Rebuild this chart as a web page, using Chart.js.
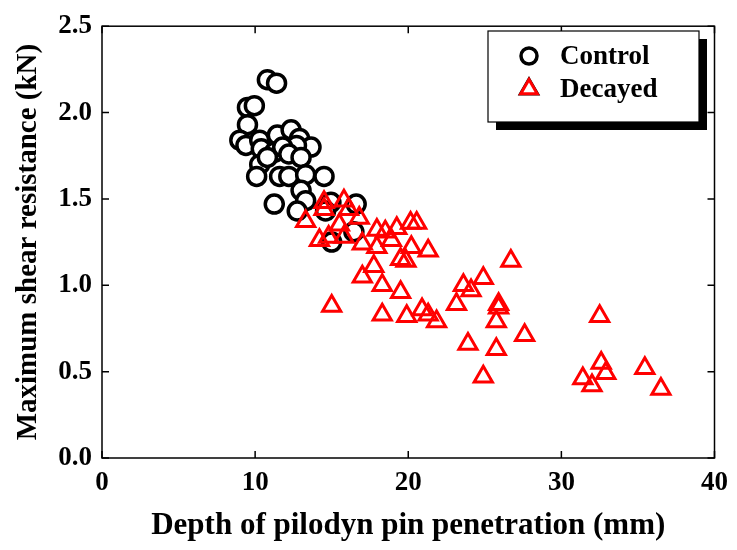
<!DOCTYPE html>
<html>
<head>
<meta charset="utf-8">
<script src="https://cdn.jsdelivr.net/npm/chart.js@4/dist/chart.umd.min.js"></script>
<style>
  html, body { margin: 0; padding: 0; background: #fff; }
  #wrap { width: 737px; height: 550px; }
</style>
</head>
<body>
<div id="wrap"><canvas id="shearChart" width="737" height="550"></canvas></div>
<script>
// pilodyn depth (mm) vs max shear resistance (kN)
var controlDepth = [10.8, 11.4, 9.5, 9.95, 9.5, 9.0, 9.4, 10.3, 10.4, 11.45, 12.35, 12.9, 13.65, 12.7, 11.25, 10.3, 10.1, 10.8, 11.8, 12.2, 13.0, 11.6, 12.2, 13.3, 14.5, 13.0, 13.3, 11.25, 12.75, 14.95, 16.6, 14.6, 16.45, 15.0];
var controlShear = [2.19, 2.17, 2.03, 2.04, 1.93, 1.84, 1.81, 1.84, 1.79, 1.87, 1.90, 1.85, 1.80, 1.81, 1.77, 1.70, 1.63, 1.74, 1.80, 1.76, 1.74, 1.63, 1.63, 1.64, 1.63, 1.55, 1.49, 1.47, 1.43, 1.48, 1.47, 1.43, 1.31, 1.25];

var decayedDepth = [14.5, 14.5, 15.8, 16.1, 16.8, 13.3, 15.5, 14.2, 14.8, 15.8, 17.0, 17.95, 18.5, 19.25, 18.9, 17.95, 20.15, 20.55, 20.2, 21.3, 19.5, 19.85, 17.75, 17.0, 18.3, 19.5, 15.0, 18.3, 19.9, 20.9, 21.3, 21.85, 26.7, 23.6, 24.9, 24.1, 23.15, 25.9, 25.9, 25.75, 27.6, 23.9, 25.75, 24.9, 32.5, 32.6, 32.9, 31.4, 32.0, 35.45, 36.5];
var decayedShear = [1.48, 1.44, 1.49, 1.44, 1.39, 1.37, 1.35, 1.26, 1.28, 1.28, 1.24, 1.32, 1.31, 1.33, 1.26, 1.22, 1.36, 1.36, 1.22, 1.20, 1.15, 1.14, 1.11, 1.05, 1.00, 0.96, 0.88, 0.83, 0.82, 0.86, 0.83, 0.79, 1.14, 1.00, 1.04, 0.97, 0.89, 0.89, 0.87, 0.79, 0.71, 0.66, 0.63, 0.47, 0.82, 0.55, 0.49, 0.46, 0.42, 0.52, 0.40];

var xTicks = [0, 10, 20, 30, 40];
var yTicks = [0, 0.5, 1.0, 1.5, 2.0, 2.5];

var fontFam = "'Liberation Serif', 'Times New Roman', serif";

function toPoints(xs, ys) {
    var pts = [];
    for (var i = 0; i < xs.length; i++) pts.push({ x: xs[i], y: ys[i] });
    return pts;
}

// frame with inward ticks on all four sides + legend box with shadow
var framePlugin = {
    id: 'frame',
    afterDraw: function(chart) {
        var ctx = chart.ctx;
        var a = chart.chartArea;
        var xs = chart.scales.x, ys = chart.scales.y;
        ctx.save();
        ctx.strokeStyle = '#000';
        ctx.lineWidth = 1.5;
        ctx.strokeRect(a.left, a.top, a.right - a.left, a.bottom - a.top);
        var len = 7;
        ctx.beginPath();
        xTicks.forEach(function(v) {
            var px = xs.getPixelForValue(v);
            ctx.moveTo(px, a.bottom); ctx.lineTo(px, a.bottom - len);
            ctx.moveTo(px, a.top); ctx.lineTo(px, a.top + len);
        });
        yTicks.forEach(function(v) {
            var py = ys.getPixelForValue(v);
            ctx.moveTo(a.left, py); ctx.lineTo(a.left + len, py);
            ctx.moveTo(a.right, py); ctx.lineTo(a.right - len, py);
        });
        ctx.stroke();

        // legend
        var bx = 488, by = 31, bw = 211, bh = 91;
        ctx.fillStyle = '#000';
        ctx.fillRect(bx + 8, by + 8, bw, bh);
        ctx.fillStyle = '#fff';
        ctx.fillRect(bx, by, bw, bh);
        ctx.lineWidth = 1.2;
        ctx.strokeRect(bx, by, bw, bh);

        var rows = [56, 89];
        chart.data.datasets.forEach(function(ds, i) {
            var cy = rows[i];
            Chart.helpers.drawPoint(ctx, {
                pointStyle: ds.pointStyle,
                radius: ds.pointStyle === 'circle' ? 8 : 9.5,
                borderWidth: ds.borderWidth
            }, 529, cy);
            ctx.fillStyle = '#fff';
            ctx.strokeStyle = ds.borderColor;
            ctx.lineWidth = ds.borderWidth;
            ctx.fill();
            ctx.stroke();
            ctx.fillStyle = '#000';
            ctx.font = 'bold 27px ' + fontFam;
            ctx.textAlign = 'left';
            ctx.textBaseline = 'middle';
            ctx.fillText(ds.label, 560, cy + 1);
        });
        ctx.restore();
    }
};

var ctx = document.getElementById('shearChart').getContext('2d');
var shearChart = new Chart(ctx, {
    type: 'scatter',
    data: {
        datasets: [{
            label: 'Control',
            data: toPoints(controlDepth, controlShear),
            pointStyle: 'circle',
            pointRadius: 9,
            borderWidth: 3.5,
            borderColor: '#000',
            backgroundColor: '#fff',
            order: 1
        }, {
            label: 'Decayed',
            data: toPoints(decayedDepth, decayedShear),
            pointStyle: 'triangle',
            pointRadius: 10.5,
            borderWidth: 3,
            borderColor: '#ff0000',
            backgroundColor: 'rgba(255,255,255,0)',
            order: 0
        }]
    },
    options: {
        responsive: false,
        animation: false,
        layout: { padding: { top: 20, right: 20, left: 0, bottom: 0 } },
        plugins: {
            legend: { display: false },
            tooltip: { enabled: false }
        },
        scales: {
            x: {
                type: 'linear',
                min: 0, max: 40,
                grid: { display: false, drawTicks: false },
                border: { display: false },
                afterBuildTicks: function(s) { s.ticks = xTicks.map(function(v) { return { value: v }; }); },
                afterFit: function(s) { s.height = 92; },
                ticks: {
                    padding: 9,
                    color: '#000',
                    font: { family: fontFam, size: 27, weight: 'bold' },
                    maxRotation: 0
                },
                title: {
                    display: true,
                    text: 'Depth of pilodyn pin penetration (mm)',
                    color: '#000',
                    font: { family: fontFam, size: 31, weight: 'bold' },
                    padding: { top: 0, bottom: 5 }
                }
            },
            y: {
                type: 'linear',
                min: 0, max: 2.5,
                grid: { display: false, drawTicks: false },
                border: { display: false },
                afterBuildTicks: function(s) { s.ticks = yTicks.map(function(v) { return { value: v }; }); },
                afterFit: function(s) { s.width = 102; },
                ticks: {
                    padding: 10,
                    color: '#000',
                    font: { family: fontFam, size: 27, weight: 'bold' },
                    callback: function(v) { return v.toFixed(1); }
                },
                title: {
                    display: true,
                    text: 'Maximum shear resistance (kN)',
                    color: '#000',
                    font: { family: fontFam, size: 29, weight: 'bold' },
                    padding: { top: 11, bottom: 0 }
                }
            }
        }
    },
    plugins: [framePlugin]
});
</script>
</body>
</html>
